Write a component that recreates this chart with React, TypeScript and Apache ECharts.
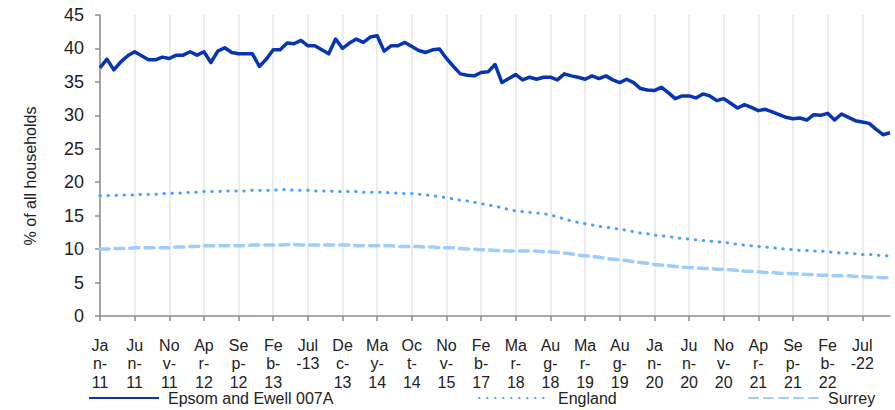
import React, { useEffect, useRef } from "react";
import * as echarts from "echarts";

const categories: string[] = [
  "Jan-11","Feb-11","Mar-11","Apr-11","May-11","Jun-11","Jul-11","Aug-11","Sep-11","Oct-11","Nov-11","Dec-11",
  "Jan-12","Feb-12","Mar-12","Apr-12","May-12","Jun-12","Jul-12","Aug-12","Sep-12","Oct-12","Nov-12","Dec-12",
  "Jan-13","Feb-13","Mar-13","Apr-13","May-13","Jun-13","Jul-13","Aug-13","Sep-13","Oct-13","Nov-13","Dec-13",
  "Jan-14","Feb-14","Mar-14","Apr-14","May-14","Jun-14","Jul-14","Aug-14","Sep-14","Oct-14",
  "Jan-15","Apr-15","Jul-15","Sep-15","Nov-15",
  "Feb-16","May-16","Aug-16","Nov-16","Feb-17",
  "May-17","Aug-17","Nov-17","Jan-18","Mar-18",
  "Apr-18","May-18","Jun-18","Jul-18","Aug-18",
  "Sep-18","Nov-18","Dec-18","Feb-19","Mar-19",
  "Apr-19","May-19","Jun-19","Jul-19","Aug-19","Sep-19","Oct-19","Nov-19","Dec-19",
  "Jan-20","Feb-20","Mar-20","Apr-20","May-20","Jun-20","Jul-20","Aug-20","Sep-20","Oct-20","Nov-20","Dec-20",
  "Jan-21","Feb-21","Mar-21","Apr-21","May-21","Jun-21","Jul-21","Aug-21","Sep-21","Oct-21","Nov-21","Dec-21",
  "Jan-22","Feb-22","Mar-22","Apr-22","May-22","Jun-22","Jul-22","Aug-22","Sep-22","Oct-22","Nov-22",
];

const epsom: number[] = [
  37.1, 38.4, 36.8, 38.0, 38.9, 39.5, 38.9, 38.3, 38.3, 38.7,
  38.5, 39.0, 39.0, 39.5, 39.0, 39.5, 37.9, 39.6, 40.1, 39.4,
  39.2, 39.2, 39.2, 37.3, 38.4, 39.8, 39.8, 40.8, 40.7, 41.2,
  40.4, 40.4, 39.8, 39.2, 41.4, 40.0, 40.8, 41.4, 40.9, 41.7,
  41.9, 39.6, 40.4, 40.4, 40.9, 40.3, 39.7, 39.4, 39.8, 39.9,
  38.5, 37.3, 36.2, 36.0, 35.9, 36.4, 36.5, 37.6, 34.9, 35.5,
  36.1, 35.3, 35.7, 35.4, 35.7, 35.7, 35.3, 36.2, 35.9, 35.7,
  35.4, 35.9, 35.5, 35.9, 35.3, 34.9, 35.4, 34.9, 34.0, 33.8,
  33.7, 34.2, 33.4, 32.5, 32.9, 32.9, 32.6, 33.2, 32.9, 32.2,
  32.5, 31.8, 31.1, 31.6, 31.2, 30.7, 30.9, 30.5, 30.1, 29.7,
  29.5, 29.6, 29.3, 30.1, 30.0, 30.3, 29.3, 30.2, 29.7, 29.2,
  29.0, 28.8, 27.9, 27.1, 27.4,
];

const england: number[] = [
  18.0, 18.0, 18.0, 18.1, 18.1, 18.1, 18.2, 18.2, 18.2, 18.3,
  18.3, 18.4, 18.4, 18.5, 18.5, 18.6, 18.6, 18.6, 18.7, 18.7,
  18.7, 18.7, 18.8, 18.8, 18.8, 18.8, 18.9, 18.9, 18.8, 18.8,
  18.8, 18.7, 18.7, 18.7, 18.6, 18.6, 18.6, 18.6, 18.5, 18.5,
  18.5, 18.5, 18.4, 18.4, 18.3, 18.3, 18.2, 18.1, 18.0, 17.8,
  17.7, 17.5, 17.3, 17.2, 17.0, 16.8, 16.6, 16.4, 16.2, 15.9,
  15.7, 15.6, 15.5, 15.4, 15.3, 15.1, 14.8, 14.5, 14.2, 14.0,
  13.8, 13.6, 13.4, 13.3, 13.1, 13.0, 12.8, 12.6, 12.4, 12.3,
  12.1, 12.0, 11.9, 11.7, 11.6, 11.5, 11.4, 11.3, 11.2, 11.1,
  11.0, 10.9, 10.7, 10.6, 10.5, 10.4, 10.3, 10.2, 10.1, 10.0,
  9.9, 9.8, 9.8, 9.7, 9.7, 9.6, 9.5, 9.4, 9.4, 9.3,
  9.2, 9.2, 9.1, 9.0, 9.0,
];

const surrey: number[] = [
  10.0, 10.0, 10.1, 10.1, 10.1, 10.2, 10.2, 10.2, 10.2, 10.2,
  10.2, 10.3, 10.3, 10.4, 10.4, 10.5, 10.5, 10.5, 10.5, 10.5,
  10.5, 10.5, 10.6, 10.6, 10.6, 10.6, 10.6, 10.7, 10.7, 10.6,
  10.6, 10.6, 10.6, 10.6, 10.6, 10.6, 10.6, 10.5, 10.5, 10.5,
  10.5, 10.5, 10.5, 10.4, 10.4, 10.4, 10.4, 10.3, 10.3, 10.2,
  10.2, 10.2, 10.1, 10.0, 10.0, 9.9, 9.9, 9.8, 9.8, 9.7,
  9.7, 9.7, 9.7, 9.7, 9.6, 9.6, 9.5, 9.4, 9.3, 9.1,
  9.0, 8.9, 8.8, 8.6, 8.5, 8.4, 8.3, 8.1, 8.0, 7.9,
  7.7, 7.6, 7.5, 7.4, 7.3, 7.2, 7.2, 7.1, 7.1, 7.0,
  7.0, 6.9, 6.8, 6.7, 6.7, 6.6, 6.5, 6.5, 6.4, 6.4,
  6.3, 6.3, 6.2, 6.2, 6.1, 6.1, 6.0, 6.0, 6.0, 5.9,
  5.9, 5.8, 5.8, 5.7, 5.7,
];

const seriesNames = ["Epsom and Ewell 007A", "England", "Surrey"];
const yTitle = "% of all households";

const FONT = "'Liberation Sans', Arial, sans-serif";

function fmtLabel(v: string): string {
  if (v.startsWith("Jul")) return "Jul\n-" + v.slice(4);
  return v.slice(0, 2) + "\n" + v.slice(2, 3) + "-\n" + v.slice(4);
}

export default function App() {
  const ref = useRef<HTMLDivElement>(null);
  useEffect(() => {
    if (!ref.current) return;
    const chart = echarts.init(ref.current, undefined, { renderer: "svg" });
    const legendBase = {
      orient: "horizontal" as const,
      itemWidth: 70,
      itemHeight: 10,
      top: 385,
      textStyle: { fontFamily: FONT, fontSize: 16, color: "#222", padding: [0, 0, 0, 4] },
      lineStyle: { width: 2 },
      itemStyle: { opacity: 0 },
      selectedMode: false,
    };
    chart.setOption({
      animation: false,
      backgroundColor: "#ffffff",
      grid: { left: 100, top: 15, right: 5, bottom: 94, containLabel: false },
      legend: [
        { ...legendBase, left: 83, data: [seriesNames[0]] },
        { ...legendBase, left: 473, data: [seriesNames[1]] },
        { ...legendBase, left: 743, data: [seriesNames[2]] },
      ],
      graphic: [
        {
          type: "text",
          x: 30,
          y: 176,
          rotation: Math.PI / 2,
          style: {
            text: yTitle,
            fontFamily: FONT,
            fontSize: 16,
            fill: "#222",
            align: "center",
            verticalAlign: "middle",
          },
        },
      ],
      xAxis: {
        type: "category",
        data: categories,
        boundaryGap: false,
        axisLine: { lineStyle: { color: "#8c8c8c", width: 1.5 } },
        axisTick: { interval: 4, length: 5, lineStyle: { color: "#8c8c8c", width: 1.5 } },
        splitLine: { show: true, interval: 4, lineStyle: { color: "#ececec", width: 2 } },
        axisLabel: {
          interval: 4,
          formatter: fmtLabel,
          fontFamily: FONT,
          fontSize: 16,
          lineHeight: 18.5,
          color: "#222",
          margin: 20,
        },
      },
      yAxis: {
        type: "value",
        min: 0,
        max: 45,
        interval: 5,
        axisLine: { show: true, lineStyle: { color: "#8c8c8c", width: 1.5 } },
        axisTick: { show: true, length: 5, lineStyle: { color: "#8c8c8c", width: 1.5 } },
        splitLine: { show: false },
        axisLabel: { fontFamily: FONT, fontSize: 18, color: "#222", margin: 16 },
      },
      series: [
        {
          name: seriesNames[0],
          type: "line",
          data: epsom,
          symbol: "none",
          lineStyle: { color: "#0634b2", width: 3.5, join: "round" },
          itemStyle: { color: "#0634b2" },
          z: 3,
        },
        {
          name: seriesNames[1],
          type: "line",
          data: england,
          symbol: "none",
          lineStyle: { color: "#4aa3f7", width: 3, type: [0.5, 7.5], cap: "round" },
          itemStyle: { color: "#4aa3f7" },
          z: 2,
        },
        {
          name: seriesNames[2],
          type: "line",
          data: surrey,
          symbol: "none",
          lineStyle: { color: "#9fcdf9", width: 3.5, type: [9, 6], cap: "round" },
          itemStyle: { color: "#9fcdf9" },
          z: 1,
        },
      ],
    });
    return () => chart.dispose();
  }, []);
  return (
    <div
      ref={ref}
      style={{ position: "fixed", left: 0, top: 0, width: 895, height: 410, background: "#fff" }}
    />
  );
}
